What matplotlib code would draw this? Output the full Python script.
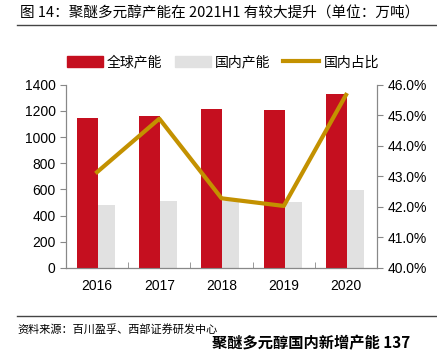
import matplotlib.pyplot as plt
import numpy as np
from matplotlib.lines import Line2D
from matplotlib.patches import Patch

plt.rcParams['font.family'] = ['Liberation Sans', 'Noto Sans CJK SC', 'DejaVu Sans']

years = ['2016', '2017', '2018', '2019', '2020']
global_cap = [1143, 1163, 1212, 1206, 1328]
domestic_cap = [484, 513, 508, 501, 598]
domestic_share = [43.14, 44.89, 42.28, 42.03, 45.67]

red = '#C50F1F'
grey = '#E1E1E1'
gold = '#C39100'
spine = '#888888'

fig = plt.figure(figsize=(4.37, 3.52), dpi=100)
ax = fig.add_axes([0.151, 0.239, 0.712, 0.520])
ax2 = ax.twinx()

x = np.arange(len(years))
ax.bar(x + 0.14, domestic_cap, width=0.29, color=grey, zorder=2)
ax.bar(x - 0.155, global_cap, width=0.34, color=red, zorder=3)
ax2.plot(x, domestic_share, color=gold, lw=3, zorder=4)

ax.set_xlim(-0.5, 4.5)
ax.set_ylim(0, 1400)
ax.set_yticks(range(0, 1401, 200))
ax2.set_ylim(40, 46)
ax2.set_yticks(range(40, 47))
ax2.set_yticklabels([f'{v:.1f}%' for v in range(40, 47)])

ax.set_xticks(x)
ax.set_xticklabels(years)
ax.set_xticks(np.arange(0.5, 4.5, 1), minor=True)
ax.tick_params(axis='x', which='major', length=0, pad=8, labelsize=10)
ax.tick_params(axis='x', which='minor', direction='in', length=4, color=spine)
ax.tick_params(axis='y', length=4, color=spine, labelsize=10)
ax2.tick_params(axis='y', length=4, color=spine, labelsize=10)

for a in (ax, ax2):
    a.spines['top'].set_visible(False)
    for s in ('left', 'right', 'bottom'):
        a.spines[s].set_color(spine)
ax.spines['bottom'].set_color('#555555')

handles = [Patch(color=red), Patch(color=grey), Line2D([], [], color=gold, lw=3)]
labels = ['全球产能', '国内产能', '国内占比']
fig.legend(handles, labels, loc='center', bbox_to_anchor=(0.51, 0.823), ncol=3,
           frameon=False, handlelength=2.6, handleheight=0.9,
           columnspacing=0.9, handletextpad=0.3,
           prop={'family': ['Noto Sans CJK SC'], 'size': 10})

fig.text(0.045, 0.963, '图 14：聚醚多元醇产能在 2021H1 有较大提升（单位：万吨）',
         fontsize=10.5, va='center', family=['Noto Sans CJK SC', 'DejaVu Sans'])
fig.add_artist(Line2D([0.04, 1.0], [0.929, 0.929], color='#444444', lw=1))
fig.add_artist(Line2D([0.04, 1.0], [0.102, 0.102], color='#444444', lw=1))
fig.text(0.041, 0.065, '资料来源：百川盈孚、西部证券研发中心', fontsize=8,
         va='center', family=['Noto Sans CJK SC'])
fig.text(0.485, 0.003, '聚醚多元醇国内新增产能 137', fontsize=11, fontweight='bold',
         va='bottom', family=['Noto Sans CJK SC'])

fig.savefig('out.png', dpi=100)
